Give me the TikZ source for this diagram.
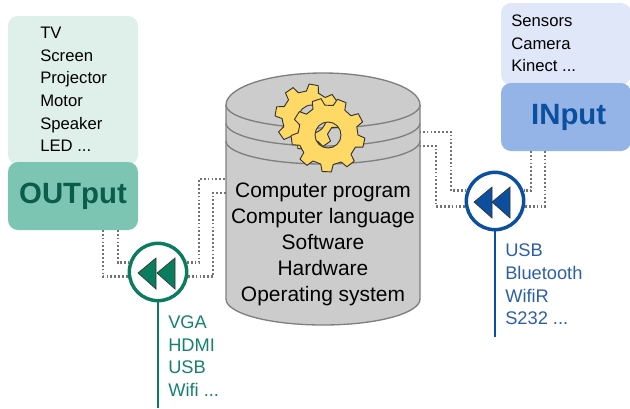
\documentclass[tikz,border=0pt]{standalone}
\usepackage{fontspec}
\setmainfont{Liberation Sans}
\usetikzlibrary{calc}
\definecolor{drumgray}{HTML}{CCCCCC}
\definecolor{drumedge}{HTML}{7F7F7F}
\definecolor{gearyellow}{HTML}{FFD966}
\definecolor{outdark}{HTML}{0A7D5E}
\definecolor{outmid}{HTML}{7CC5B3}
\definecolor{outlight}{HTML}{DFF0EB}
\definecolor{outtext}{HTML}{0B5C48}
\definecolor{outlabel}{HTML}{17806F}
\definecolor{indark}{HTML}{0B4F9E}
\definecolor{inmid}{HTML}{94B4E8}
\definecolor{inlight}{HTML}{DFE7F8}
\definecolor{inlabel}{HTML}{2C5FA8}
\tikzset{
  box/.style={rounded corners=7.5pt,minimum width=97.5pt,inner sep=0pt},
  bigword/.style={font=\fontsize{22}{26}\selectfont\bfseries},
  listtext/.style={anchor=west,align=left,inner sep=0pt,font=\fontsize{12.5}{17}\selectfont},
  sidetext/.style={anchor=west,align=left,inner sep=0pt,font=\fontsize{13.7}{17}\selectfont},
  ring/.style={circle,draw,line width=2.6pt,fill=white,minimum size=43pt,inner sep=0pt},
  wire/.style={draw=black!55,line width=1.9pt,dash pattern=on 1.3pt off 1.6pt},
  drumline/.style={draw=drumedge,line width=1pt}
}
\begin{document}
\begin{tikzpicture}[x=0.75pt,y=-0.75pt]
\useasboundingbox (0,0) rectangle (630,408);

\fill[drumgray] (226,105) arc[start angle=180,end angle=360,x radius=97,y radius=32]
  -- (420,299) arc[start angle=0,end angle=180,x radius=97,y radius=26] -- cycle;
\draw[drumline] (226,105) arc[start angle=180,end angle=360,x radius=97,y radius=32]
  -- (420,299) arc[start angle=0,end angle=180,x radius=97,y radius=26] -- cycle;
\foreach \y in {105,123,141}
  \draw[drumline] (226,\y) arc[start angle=180,end angle=0,x radius=97,y radius=23];
\node[minimum width=145.5pt,minimum height=189pt,inner sep=0pt] (drum) at (323,199) {};

\foreach \cx/\cy/\n/\ro/\ri/\hx/\hy/\rh/\rot in {308/117/8/33/26/4/2/14/10,328/135/9/37/30/0/0/13/12}{
  \pgfmathsetmacro{\w}{360/\n}
  \begin{scope}[shift={(\cx,\cy)}]
  \draw[fill=gearyellow,draw=black!80,line width=0.7pt,even odd rule,line join=round]
    (\rot-0.3*\w:\ri)
    \foreach \i in {1,...,\n}{
      -- ({\rot+(\i-1)*\w-0.3*\w}:\ri) -- ({\rot+(\i-1)*\w-0.18*\w}:\ro)
      -- ({\rot+(\i-1)*\w+0.18*\w}:\ro) -- ({\rot+(\i-1)*\w+0.3*\w}:\ri)
    } -- cycle
    (\hx,\hy) circle[radius=\rh];
  \end{scope}
}

\node[inner sep=0pt,align=center,font=\fontsize{15.7}{19.5}\selectfont] (drumtext) at (323,244)
  {Computer program\\Computer language\\Software\\Hardware\\Operating system};

\node[box,fill=outlight,minimum height=111.75pt] (outlist) at (73,90.5) {};
\node[box,fill=outmid,minimum height=51pt,text=outtext,bigword] (outbox) at (73,196) {OUTput};
\node[listtext] (outitems) at (40,89.5) {TV\\Screen\\Projector\\Motor\\Speaker\\LED ...};

\node[box,fill=inlight,minimum height=61.5pt] (inlist) at (566,44) {};
\node[box,fill=inmid,minimum height=51pt,text=indark,bigword] (inbox) at (566,117) {\hspace*{4pt}INput};
\node[listtext] (initems) at (511,43.5) {Sensors\\Camera\\Kinect ...};

\node[ring,draw=outdark] (outring) at (158,272) {};
\node[ring,draw=indark] (inring) at (495,201) {};

\path (103,230) coordinate (oa) (118,230) coordinate (ob) (199,179) coordinate (oc) (213,193) coordinate (od);
\path (531,151) coordinate (ia) (545,151) coordinate (ib) (451,132) coordinate (ic) (436,146) coordinate (id);

\draw[wire] (oa) |- (outring.189);
\draw[wire] (ob) |- (outring.162);
\draw[wire] (outring.18) -| (oc) -- (oc -| drum.west);
\draw[wire] (outring.351) -| (od) -- (od -| drum.west);
\draw[wire] (ia) |- (inring.20);
\draw[wire] (ib) |- (inring.350);
\draw[wire] (inring.160) -| (ic) -- (ic -| drum.east);
\draw[wire] (inring.190) -| (id) -- (id -| drum.east);

\foreach \x in {138,157}
  \draw[fill=outdark,draw=black!80,line width=0.5pt] (\x,273) -- (\x+18,258) -- (\x+18,289) -- cycle;
\foreach \x in {474,492}
  \draw[fill=indark,draw=black!80,line width=0.5pt] (\x,202) -- (\x+18,187) -- (\x+18,218) -- cycle;

\coordinate (outend) at (158,408);
\coordinate (inend) at (495,337);
\draw[outdark,line width=2.2pt] (outring.south) -- (outend);
\draw[indark,line width=2.2pt] (inring.south) -- (inend);

\node[sidetext,text=outlabel] (outports) at (168,356) {VGA\\HDMI\\USB\\Wifi ...};
\node[sidetext,text=inlabel] (inports) at (505,284.5) {USB\\Bluetooth\\WifiR\\S232 ...};
\end{tikzpicture}
\end{document}
